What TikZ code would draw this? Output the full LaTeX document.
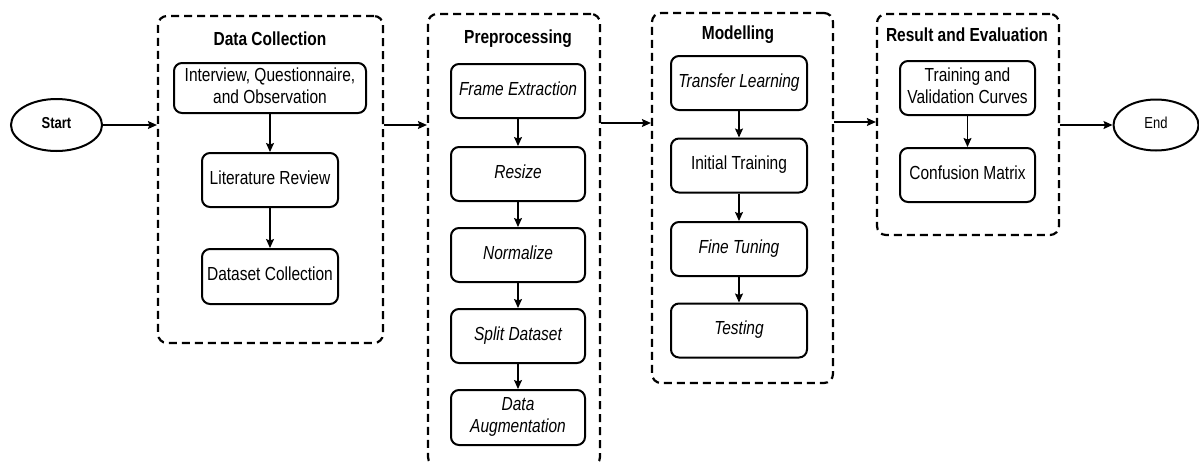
\documentclass[tikz,border=0pt]{standalone}
\usepackage{fontspec}
\setmainfont{Liberation Sans}
\usetikzlibrary{arrows.meta,shapes.geometric}
\newcommand{\tx}[1]{\scalebox{1}[1.22]{\begin{tabular}{@{}c@{}}#1\end{tabular}}}
\begin{document}
\begin{tikzpicture}[x=1pt,y=-1pt,
  every node/.style={font=\fontsize{15.5}{18}\selectfont},
  grp/.style={draw, line width=2.2pt, dash pattern=on 8pt off 5pt, rounded corners=9pt, inner sep=0pt},
  box/.style={draw, line width=2pt, rounded corners=8pt, inner sep=0pt, align=center},
  ttl/.style={font=\fontsize{15.5}{18}\selectfont\bfseries},
  oval/.style={draw, ellipse, line width=2pt, inner sep=0pt},
  arr/.style={-{Stealth[length=9pt,width=8pt,inset=1.5pt]}, line width=1.2pt}
]
\clip (0,0) rectangle (1199,461);
% groups
\node[grp, minimum width=225pt, minimum height=327pt] (dc) at (270.5,179.5) {};
\node[grp, minimum width=172pt, minimum height=452pt] (pp) at (514,240) {};
\node[grp, minimum width=181pt, minimum height=370pt] (mo) at (742.5,198) {};
\node[grp, minimum width=182pt, minimum height=221pt] (re) at (968,124.5) {};
% titles
\node[ttl] (tdc) at (270,41) {\tx{Data Collection}};
\node[ttl] (tpp) at (518,39) {\tx{Preprocessing}};
\node[ttl] (tmo) at (738,35) {\tx{Modelling}};
\node[ttl] (tre) at (967,37) {\tx{Result and Evaluation}};
% start/end
\node[oval, minimum width=91pt, minimum height=52pt] (start) at (56.5,125) {\fontsize{13}{15}\selectfont\bfseries\tx{Start}};
\node[oval, minimum width=85pt, minimum height=51pt] (end) at (1156,125) {\fontsize{13}{15}\selectfont\tx{End}};
% data collection
\node[box, minimum width=192pt, minimum height=50pt] (d1) at (270,88) {\tx{Interview, Questionnaire,\\and Observation}};
\node[box, minimum width=136pt, minimum height=54pt] (d2) at (270,180) {\tx{Literature Review}};
\node[box, minimum width=136pt, minimum height=55pt] (d3) at (270,276.5) {\tx{Dataset Collection}};
% preprocessing
\node[box, minimum width=134pt, minimum height=54pt] (p1) at (518,91) {\itshape\tx{Frame Extraction}};
\node[box, minimum width=134pt, minimum height=54pt] (p2) at (518,174) {\itshape\tx{Resize}};
\node[box, minimum width=134pt, minimum height=54pt] (p3) at (518,255) {\itshape\tx{Normalize}};
\node[box, minimum width=134pt, minimum height=54pt] (p4) at (518,336) {\itshape\tx{Split Dataset}};
\node[box, minimum width=134pt, minimum height=55pt] (p5) at (518,417.5) {\itshape\tx{\itshape Data\\\itshape Augmentation}};
% modelling
\node[box, minimum width=136pt, minimum height=54pt] (m1) at (739,83) {\itshape\tx{Transfer Learning}};
\node[box, minimum width=136pt, minimum height=54pt] (m2) at (739,165.5) {\tx{Initial Training}};
\node[box, minimum width=136pt, minimum height=54pt] (m3) at (739,249) {\itshape\tx{Fine Tuning}};
\node[box, minimum width=136pt, minimum height=54pt] (m4) at (739,330.5) {\itshape\tx{Testing}};
% result
\node[box, minimum width=135pt, minimum height=54pt] (r1) at (967.5,88) {\tx{Training and\\Validation Curves}};
\node[box, minimum width=135pt, minimum height=54pt] (r2) at (967.5,175) {\tx{Confusion Matrix}};
% arrows inside
\draw[arr] (d1) -- (d2);
\draw[arr] (d2) -- (d3);
\draw[arr] (p1) -- (p2);
\draw[arr] (p2) -- (p3);
\draw[arr] (p3) -- (p4);
\draw[arr] (p4) -- (p5);
\draw[arr] (m1) -- (m2);
\draw[arr] (m2) -- (m3);
\draw[arr] (m3) -- (m4);
\draw[arr] (r1) -- (r2);
% arrows between groups
\draw[arr] (start) -- (dc.west |- start);
\draw[arr] (dc.east |- start) -- (pp.west |- start);
\draw[arr] (pp.east |- 0,123) -- (mo.west |- 0,123);
\draw[arr] (mo.east |- 0,122) -- (re.west |- 0,122);
\draw[arr] (re.east |- end) -- (end);
\end{tikzpicture}
\end{document}
